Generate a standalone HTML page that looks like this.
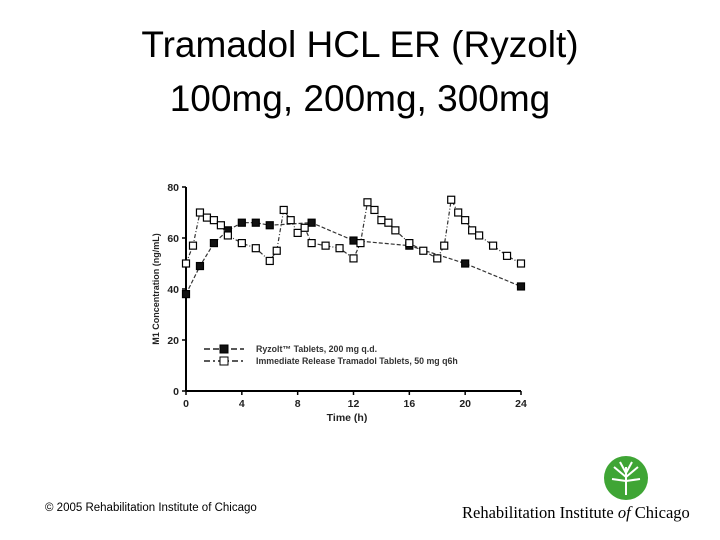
<!DOCTYPE html>
<html><head><meta charset="utf-8"><style>
body{margin:0;width:720px;height:540px;background:#fff;overflow:hidden;font-family:"Liberation Sans",sans-serif;position:relative}
.title{position:absolute;left:0;top:18px;width:720px;text-align:center;font-size:37px;line-height:54px;color:#000}
.copy{position:absolute;left:45px;top:502px;font-size:11.5px}
.rico{position:absolute;left:462px;top:503px;font-family:"Liberation Serif",serif;font-size:16.5px}
</style></head><body>
<div class="title">Tramadol HCL ER (Ryzolt)<br>100mg, 200mg, 300mg</div>
<svg id="chart" width="720" height="540" style="position:absolute;left:0;top:0"></svg>
<div class="copy">© 2005 Rehabilitation Institute of Chicago</div>
<svg width="50" height="50" style="position:absolute;left:602px;top:455px"><circle cx="24" cy="23" r="22" fill="#3fa535"/><g stroke="#fff" stroke-width="2"><line x1="24" y1="40" x2="24" y2="12"/><line x1="24" y1="22" x2="12" y2="12"/><line x1="24" y1="22" x2="36" y2="12"/><line x1="24" y1="26" x2="10" y2="24"/><line x1="24" y1="26" x2="38" y2="24"/><line x1="24" y1="18" x2="18" y2="7"/><line x1="24" y1="18" x2="30" y2="7"/></g></svg>
<div class="rico">Rehabilitation Institute <i>of</i> Chicago</div>
<script>
const xTicks=[0,4,8,12,16,20,24];
const yTicks=[0,20,40,60,80];
const ryzT=[0,1,2,3,4,5,6,9,12,16,20,24];
const ryzV=[38,49,58,63,66,66,65,66,59,57,50,41];
const irT=[0,0.5,1,1.5,2,2.5,3,4,5,6,6.5,7,7.5,8,8.5,9,10,11,12,12.5,13,13.5,14,14.5,15,16,17,18,18.5,19,19.5,20,20.5,21,22,23,24];
const irV=[50,57,70,68,67,65,61,58,56,51,55,71,67,62,64,58,57,56,52,58,74,71,67,66,63,58,55,52,57,75,70,67,63,61,57,53,50];
const X=t=>186+t*(335/24), Y=v=>391-v*(204/80);
const svg=document.getElementById('chart');const NS='http://www.w3.org/2000/svg';
function mk(tag,a,p){const e=document.createElementNS(NS,tag);for(const k in a)e.setAttribute(k,a[k]);(p||svg).appendChild(e);return e;}
let e=mk('line',{x1:186,y1:187,x2:186,y2:391,stroke:'#000','stroke-width':2});

e=mk('line',{x1:186,y1:391,x2:521,y2:391,stroke:'#000','stroke-width':2});

xTicks.forEach(t=>{mk('line',{x1:X(t),y1:391,x2:X(t),y2:395,stroke:'#000','stroke-width':1.5});
e=mk('text',{x:X(t),y:407,'font-size':10.5,'font-weight':'bold','text-anchor':'middle',fill:'#222'});e.textContent=t;
});
yTicks.forEach(v=>{mk('line',{x1:182,y1:Y(v),x2:186,y2:Y(v),stroke:'#000','stroke-width':1.5});
e=mk('text',{x:179,y:Y(v)+4,'font-size':10.5,'font-weight':'bold','text-anchor':'end',fill:'#222'});e.textContent=v;
});
e=mk('text',{x:347,y:421,'font-size':10.5,'font-weight':'bold','text-anchor':'middle',fill:'#222'});e.textContent='Time (h)';

e=mk('text',{x:159,y:289,'font-size':9,'font-weight':'bold','text-anchor':'middle',fill:'#222',transform:'rotate(-90 159 289)'});e.textContent='M1 Concentration (ng/mL)';

function series(T,V,fill,name,dash){
 e=mk('polyline',{points:T.map((t,i)=>X(t)+','+Y(V[i])).join(' '),fill:'none',stroke:'#333','stroke-width':1.2,'stroke-dasharray':dash});
 
 T.forEach((t,i)=>{e=mk('rect',{x:X(t)-3.5,y:Y(V[i])-3.5,width:7,height:7,fill:fill,stroke:'#000','stroke-width':1.2});
 });
}
series(ryzT,ryzV,'#111','ryzolt','4,2');
series(irT,irV,'#fff','immediate-release','4,2,1,2');
function leg(y,fill,label,name,dash){
 mk('line',{x1:204,y1:y,x2:244,y2:y,stroke:'#222','stroke-width':1.5,'stroke-dasharray':dash});
 mk('rect',{x:220,y:y-4,width:8,height:8,fill:fill,stroke:'#000'});
 e=mk('text',{x:256,y:y+3,'font-size':8.8,'font-weight':'bold',fill:'#333'});e.textContent=label;
 
}
leg(349,'#111','Ryzolt™ Tablets, 200 mg q.d.','legend-ryzolt','6,3');
leg(361,'#fff','Immediate Release Tramadol Tablets, 50 mg q6h','legend-immediate-release','6,3,2,3');
</script>
</body></html>
